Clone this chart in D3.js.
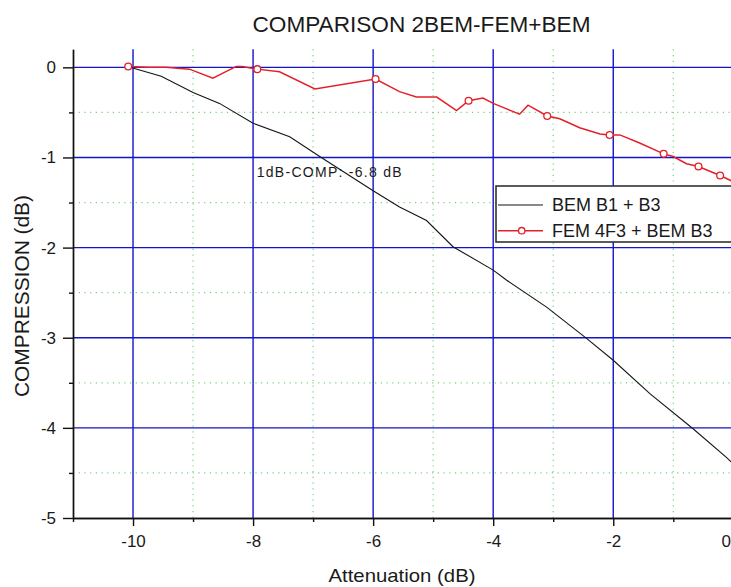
<!DOCTYPE html>
<html>
<head>
<meta charset="utf-8">
<script src="https://cdn.jsdelivr.net/npm/d3@7"></script>
<style>
  html, body { margin: 0; padding: 0; background: #fff; }
  svg { display: block; }
  text { font-family: "Liberation Sans", Arial, sans-serif; fill: #1a1a1a; }
</style>
</head>
<body>
<svg id="chart" width="731" height="587"></svg>
<script>
// ---- data ----
const titleText = "COMPARISON 2BEM-FEM+BEM";
const xLabel = "Attenuation (dB)";
const yLabel = "COMPRESSION (dB)";
const annotationText = "1dB-COMP: -6.8 dB";
const annotationPos = [-7.94, -1.215];

const xMajorTicks = [-10, -8, -6, -4, -2, 0];
const xMinorTicks = [-11, -9, -7, -5, -3, -1];
const yMajorTicks = [0, -1, -2, -3, -4, -5];
const yMinorTicks = [-0.5, -1.5, -2.5, -3.5, -4.5];
const xGridMajor = [-10, -8, -6, -4, -2, 0];
const xGridMinor = [-9, -7, -5, -3, -1];
const yGridMajor = [0, -1, -2, -3, -4];
const yGridMinor = [-0.5, -1.5, -2.5, -3.5, -4.5];

const seriesNames = ["BEM B1 + B3", "FEM 4F3 + BEM B3"];

const bemX = [-10.05, -9.53, -9.0, -8.56, -8.0, -7.39, -6.89, -6.0, -5.56, -5.11, -4.67, -4.0, -3.78, -3.11, -2.44, -2.0, -1.39, -0.67, -0.11, 0.0];
const bemY = [0.0, -0.10, -0.28, -0.40, -0.62, -0.77, -0.99, -1.37, -1.55, -1.70, -1.99, -2.25, -2.36, -2.66, -3.01, -3.25, -3.62, -4.01, -4.33, -4.40];

const femX = [-10.08, -9.75, -9.45, -9.06, -8.67, -8.28, -8.18, -7.93, -7.56, -6.97, -5.96, -5.56, -5.28, -4.94, -4.61, -4.41, -4.17, -4.0, -3.56, -3.42, -3.1, -2.89, -2.56, -2.22, -2.06, -1.89, -1.56, -1.16, -1.0, -0.78, -0.58, -0.22, 0.0];
const femY = [0.01, 0.0, 0.0, -0.02, -0.12, 0.01, 0.01, -0.02, -0.05, -0.24, -0.13, -0.27, -0.33, -0.33, -0.48, -0.37, -0.34, -0.40, -0.52, -0.42, -0.54, -0.57, -0.67, -0.74, -0.75, -0.75, -0.84, -0.96, -0.99, -1.07, -1.10, -1.20, -1.27];
const femMarkerIdx = [0, 7, 10, 15, 20, 24, 27, 30, 31];

// ---- chart ----
const W = 731;
const svg = d3.select("#chart");
const xDomain = [-11, 0];
const yDomain = [-5, 0.2];
const x = d3.scaleLinear().domain(xDomain).range([73, 733.3]);
const y = d3.scaleLinear().domain(yDomain).range([518, 49.3]);

const BLUE = "#1414c8";
const GREEN = "#78d078";
const RED = "#e3202a";

// minor grid (green dotted)
svg.append("g").selectAll("line").data(xGridMinor).join("line")
  .attr("x1", d => x(d)).attr("x2", d => x(d))
  .attr("y1", y(yDomain[1])).attr("y2", y(yDomain[0]))
  .attr("stroke", GREEN).attr("stroke-width", 1.2).attr("stroke-dasharray", "1.2,4.5");
svg.append("g").selectAll("line").data(yGridMinor).join("line")
  .attr("x1", x(xDomain[0])).attr("x2", x(xDomain[1]))
  .attr("y1", d => y(d)).attr("y2", d => y(d))
  .attr("stroke", GREEN).attr("stroke-width", 1.2).attr("stroke-dasharray", "1.2,4.5");

// major grid (blue)
svg.append("g").selectAll("line").data(xGridMajor).join("line")
  .attr("x1", d => x(d)).attr("x2", d => x(d))
  .attr("y1", y(yDomain[1])).attr("y2", y(yDomain[0]))
  .attr("stroke", BLUE).attr("stroke-width", 1.4);
svg.append("g").selectAll("line").data(yGridMajor).join("line")
  .attr("x1", x(xDomain[0])).attr("x2", x(xDomain[1]))
  .attr("y1", d => y(d)).attr("y2", d => y(d))
  .attr("stroke", BLUE).attr("stroke-width", 1.4);

// axes
const fmt = d => String(d);
const xAxisMajor = d3.axisBottom(x).tickValues(xMajorTicks).tickSize(8).tickSizeOuter(0).tickPadding(9).tickFormat(fmt);
const xAxisMinor = d3.axisBottom(x).tickValues(xMinorTicks).tickSize(4).tickSizeOuter(0).tickFormat("");
const yAxisMajor = d3.axisLeft(y).tickValues(yMajorTicks).tickSize(10).tickSizeOuter(0).tickPadding(7).tickFormat(fmt);
const yAxisMinor = d3.axisLeft(y).tickValues(yMinorTicks).tickSize(4).tickSizeOuter(0).tickFormat("");

function styleAxis(g) {
  g.selectAll("path").attr("stroke", "#111").attr("stroke-width", 1.4);
  g.selectAll("line").attr("stroke", "#111").attr("stroke-width", 1.4);
  g.selectAll("text").attr("font-size", 17).attr("fill", "#1a1a1a")
    .attr("font-family", "'Liberation Sans', Arial, sans-serif");
}
svg.append("g").attr("transform", `translate(0,${y(yDomain[0])})`).call(xAxisMinor).call(styleAxis);
const gx = svg.append("g").attr("transform", `translate(0,${y(yDomain[0])})`).call(xAxisMajor).call(styleAxis);
// keep the last tick label (at the clipped right edge) inside the picture
gx.selectAll(".tick text").filter(d => x(d) > W - 6)
  .attr("text-anchor", "end").attr("dx", d => (W - x(d)) - 0.5);
svg.append("g").attr("transform", `translate(${x(xDomain[0])},0)`).call(yAxisMinor).call(styleAxis);
svg.append("g").attr("transform", `translate(${x(xDomain[0])},0)`).call(yAxisMajor).call(styleAxis);

// lines
const bemData = bemX.map((v, i) => [v, bemY[i]]);
const femData = femX.map((v, i) => [v, femY[i]]);
const line = d3.line().x(d => x(d[0])).y(d => y(d[1]));

svg.append("path").datum(bemData).attr("d", line)
  .attr("fill", "none").attr("stroke", "#151515").attr("stroke-width", 1.1);
svg.append("path").datum(femData).attr("d", line)
  .attr("fill", "none").attr("stroke", RED).attr("stroke-width", 1.5);
svg.append("g").selectAll("circle").data(femMarkerIdx.map(i => femData[i])).join("circle")
  .attr("cx", d => x(d[0])).attr("cy", d => y(d[1])).attr("r", 3.4)
  .attr("fill", "#fff").attr("stroke", RED).attr("stroke-width", 1.3);

// annotation
svg.append("text").attr("x", x(annotationPos[0])).attr("y", y(annotationPos[1]))
  .attr("font-size", 14).attr("textLength", 145).attr("lengthAdjust", "spacing")
  .text(annotationText);

// title & axis labels
svg.append("text").attr("x", 421.5).attr("y", 32).attr("text-anchor", "middle")
  .attr("font-size", 22).attr("textLength", 338).attr("lengthAdjust", "spacingAndGlyphs")
  .attr("fill", "#222").text(titleText);
svg.append("text").attr("x", 402).attr("y", 582).attr("text-anchor", "middle")
  .attr("font-size", 19).attr("textLength", 147).attr("lengthAdjust", "spacingAndGlyphs")
  .text(xLabel);
svg.append("text").attr("transform", "translate(29,296) rotate(-90)").attr("text-anchor", "middle")
  .attr("font-size", 20).attr("textLength", 202).attr("lengthAdjust", "spacingAndGlyphs")
  .text(yLabel);

// legend
const lg = svg.append("g").attr("transform", "translate(496,186)");
lg.append("rect").attr("x", 0).attr("y", 0).attr("width", 260).attr("height", 56)
  .attr("fill", "#fff").attr("stroke", "#333").attr("stroke-width", 1.6);
const rows = [
  { name: seriesNames[0], color: "#151515", marker: false, yy: 19 },
  { name: seriesNames[1], color: RED, marker: true, yy: 44.7 }
];
rows.forEach(r => {
  lg.append("line").attr("x1", 2).attr("x2", 47).attr("y1", r.yy).attr("y2", r.yy)
    .attr("stroke", r.color).attr("stroke-width", r.marker ? 1.5 : 1.1);
  if (r.marker) {
    lg.append("circle").attr("cx", 25.7).attr("cy", r.yy).attr("r", 3.2)
      .attr("fill", "#fff").attr("stroke", r.color).attr("stroke-width", 1.3);
  }
  lg.append("text").attr("x", 56).attr("y", r.yy + 6.3).attr("font-size", 18).text(r.name);
});
</script>
</body>
</html>
